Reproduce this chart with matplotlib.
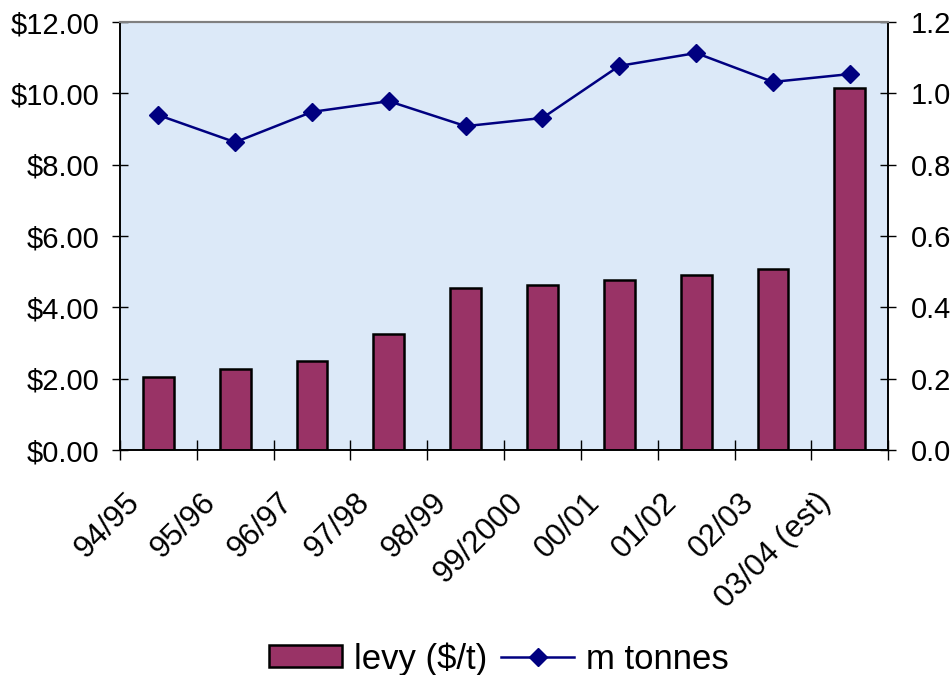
import matplotlib
matplotlib.use("Agg")
import matplotlib.pyplot as plt
from matplotlib.ticker import FuncFormatter, MultipleLocator, FixedLocator
from matplotlib.lines import Line2D
from matplotlib.patches import Patch
from matplotlib.transforms import ScaledTranslation
import numpy as np

seasons = ["94/95", "95/96", "96/97", "97/98", "98/99", "99/2000",
           "00/01", "01/02", "02/03", "03/04 (est)"]
levy = [2.05, 2.27, 2.50, 3.25, 4.54, 4.63, 4.77, 4.91, 5.07, 10.15]
tonnes = [0.939, 0.863, 0.948, 0.978, 0.908, 0.931, 1.077, 1.113, 1.032, 1.054]

plt.rcParams['font.family'] = ['Liberation Sans', 'DejaVu Sans']

fig = plt.figure(figsize=(9.52, 6.75), dpi=100)
ax = fig.add_axes([0.126, 0.3333, 0.807, 0.6341])
ax.set_facecolor('#dce9f8')

x = np.arange(len(seasons))
ax.bar(x, levy, width=0.4, color='#993366', edgecolor='black', linewidth=1.8, zorder=2)
ax.set_xlim(-0.5, len(seasons) - 0.5)
ax.set_ylim(0, 12)
ax.yaxis.set_major_locator(MultipleLocator(2))
ax.yaxis.set_major_formatter(FuncFormatter(lambda v, p: f"${v:.2f}"))

ax.set_xticks(x)
ax.set_xticklabels(seasons, rotation=45, ha='right', va='top', fontsize=22.5)
ax.xaxis.set_minor_locator(FixedLocator(np.arange(-0.5, len(seasons), 1.0)))
ax.tick_params(axis='x', which='major', length=0, pad=27)
ax.tick_params(axis='x', which='minor', direction='inout', length=14, width=1)
ax.tick_params(axis='y', direction='inout', length=12, width=1, labelsize=21, pad=9)
shift = ScaledTranslation(-13 / 100, 0, fig.dpi_scale_trans)
for lbl in ax.get_xticklabels():
    lbl.set_transform(lbl.get_transform() + shift)

ax2 = ax.twinx()
ax2.plot(x, tonnes, color='#000080', linewidth=1.8, marker='D', markersize=9, zorder=3)
ax2.set_ylim(0, 1.2)
ax2.yaxis.set_major_locator(MultipleLocator(0.2))
ax2.yaxis.set_major_formatter(FuncFormatter(lambda v, p: f"{v:.1f}"))
ax2.tick_params(axis='y', direction='inout', length=12, width=1, labelsize=21, pad=10)

for a in (ax, ax2):
    a.spines['top'].set_color('#808080')
    a.spines['top'].set_linewidth(1.5)
    a.spines['left'].set_linewidth(1.2)
    a.spines['right'].set_linewidth(1.2)
    a.spines['bottom'].set_linewidth(1.2)

handles = [Patch(facecolor='#993366', edgecolor='black', linewidth=1.8),
           Line2D([0], [0], color='#000080', linewidth=1.8, marker='D', markersize=9)]
fig.legend(handles, ['levy ($/t)', 'm tonnes'], loc='center', bbox_to_anchor=(0.524, 0.024),
           ncol=2, frameon=False, fontsize=25, handlelength=2.1, handleheight=0.6,
           handletextpad=0.35, columnspacing=0.4, borderaxespad=0)

fig.savefig('out.png', dpi=100)
